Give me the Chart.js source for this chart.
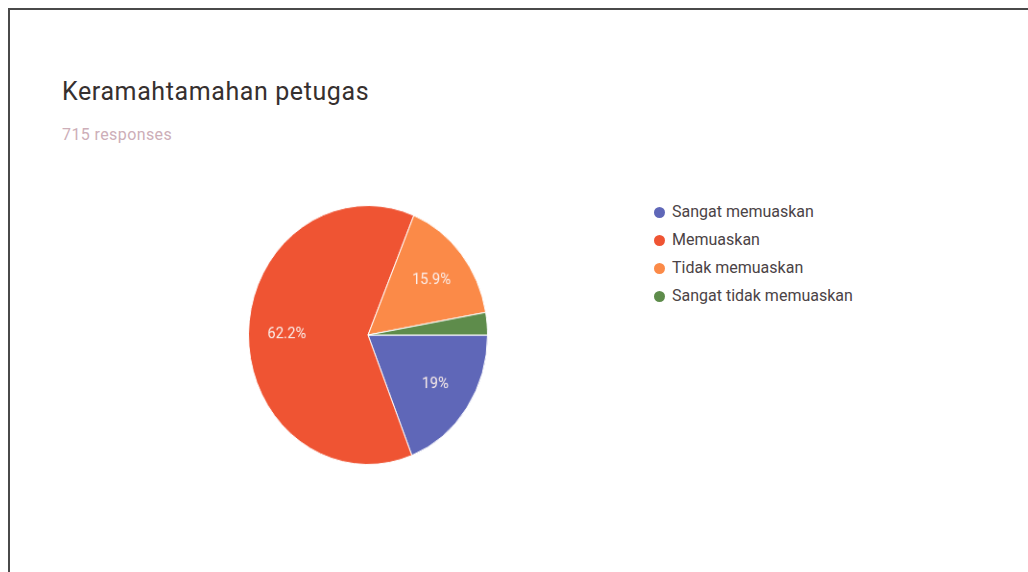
<!DOCTYPE html>
<html>
<head>
<meta charset="utf-8">
<script src="https://cdn.jsdelivr.net/npm/chart.js@4.4.1/dist/chart.umd.min.js"></script>
<style>
  html, body { margin: 0; padding: 0; background: #fff; overflow: hidden; }
  body { width: 1028px; height: 572px; position: relative; font-family: Roboto, "Noto Sans", sans-serif; }
  #frame { position: absolute; left: 8px; top: 8px; width: 1100px; height: 700px; border: 2px solid #4a4a4a; }
  #title { position: absolute; left: 62px; top: 78px; font-size: 25px; letter-spacing: 0.6px; line-height: 28px; color: #36302f; }
  #sub { position: absolute; left: 62px; top: 125px; font-size: 16px; letter-spacing: 0.4px; line-height: 20px; color: #cdaeb8; }
  #pieWrap { position: absolute; left: 238px; top: 205px; width: 260px; height: 260px; transform: scale(0.96, 1.04); transform-origin: 130px 130px; }
  #legend { position: absolute; left: 654px; top: 198px; margin: 0; padding: 0; list-style: none; }
  #legend li { height: 28px; line-height: 28px; font-size: 16px; color: #4b4346; white-space: nowrap; }
  #legend span.dot { display: inline-block; width: 11px; height: 11px; border-radius: 50%; margin-right: 7px; vertical-align: -1px; }
</style>
</head>
<body>
<div id="frame"></div>
<div id="title">Keramahtamahan petugas</div>
<div id="sub">715 responses</div>
<div id="pieWrap"><canvas id="pieChart" width="260" height="260"></canvas></div>
<ul id="legend"></ul>
<script>
// Answers and response counts (715 in total)
const answerLabels = ["Sangat memuaskan", "Memuaskan", "Tidak memuaskan", "Sangat tidak memuaskan"];
const responseCounts = [136, 445, 114, 20];
const sliceColors = ['#5f67b8', '#ef5433', '#fb8a48', '#5e8c4b'];

// draws the percentage inside each slice, like the Google Forms summary
const sliceLabels = {
  id: 'sliceLabels',
  afterDatasetsDraw(chart) {
    const ctx = chart.ctx;
    const data = chart.data.datasets[0].data;
    const total = data.reduce((a, b) => a + b, 0);
    chart.getDatasetMeta(0).data.forEach((arc, i) => {
      const pct = data[i] / total * 100;
      if (pct < 5) return;
      const p = arc.getProps(['startAngle', 'endAngle', 'outerRadius', 'x', 'y'], true);
      const mid = (p.startAngle + p.endAngle) / 2;
      const r = p.outerRadius * 0.68;
      ctx.save();
      ctx.fillStyle = '#fbeeea';
      ctx.font = '15px Roboto';
      ctx.textAlign = 'center';
      ctx.textBaseline = 'middle';
      ctx.fillText(parseFloat(pct.toFixed(1)) + '%', p.x + Math.cos(mid) * r, p.y + Math.sin(mid) * r);
      ctx.restore();
    });
  }
};

const pieChart = new Chart(document.getElementById('pieChart').getContext('2d'), {
  type: 'pie',
  data: {
    labels: answerLabels,
    datasets: [{
      data: responseCounts,
      backgroundColor: sliceColors,
      borderColor: '#ffffff',
      borderWidth: 1
    }]
  },
  options: {
    responsive: false,
    animation: false,
    rotation: 90, // first slice starts at 3 o'clock
    layout: { padding: 5 },
    plugins: {
      legend: { display: false },
      tooltip: { enabled: false }
    }
  },
  plugins: [sliceLabels]
});

// HTML legend from the chart's own legend items
const legendEl = document.getElementById('legend');
pieChart.options.plugins.legend.labels.generateLabels(pieChart).forEach(item => {
  const li = document.createElement('li');
  const dot = document.createElement('span');
  dot.className = 'dot';
  dot.style.background = item.fillStyle;
  li.appendChild(dot);
  li.appendChild(document.createTextNode(item.text));
  legendEl.appendChild(li);
});
</script>
</body>
</html>
